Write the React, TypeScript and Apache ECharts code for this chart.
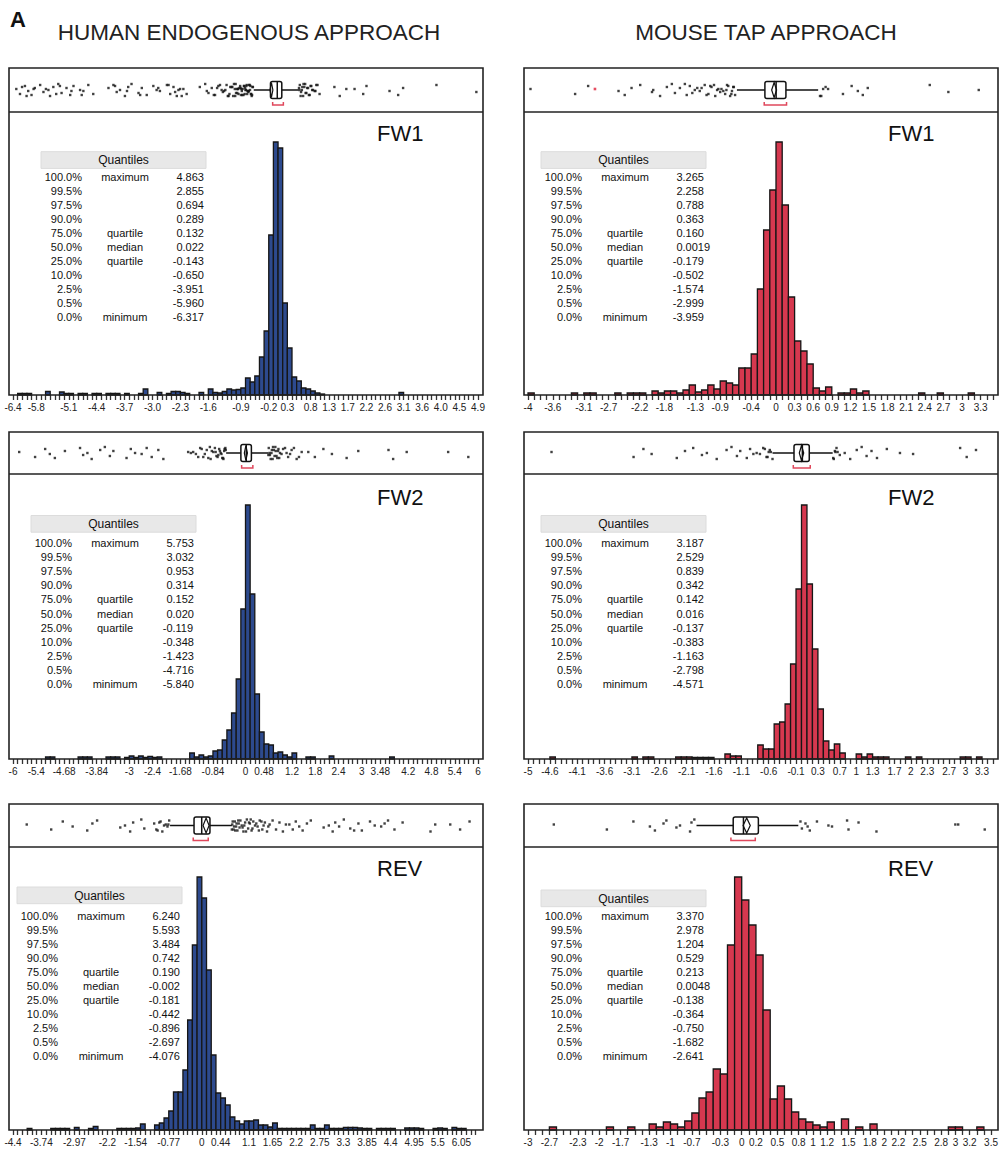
import React, { useEffect, useRef } from "react";
import * as echarts from "echarts";

const FONT = '"Liberation Sans", Arial, Helvetica, sans-serif';
const BLUE = "#2d4a8e";
const RED = "#d6384f";

const PCT = ["100.0%", "99.5%", "97.5%", "90.0%", "75.0%", "50.0%", "25.0%", "10.0%", "2.5%", "0.5%", "0.0%"];
const QLABEL = ["maximum", "", "", "", "quartile", "median", "quartile", "", "", "", "minimum"];
const JITTER = [1, -4, 4, -1, -5, 2, 5, -2, 0, -6, 3, 6, -3, 2, -5, 4, 0, -1, 5, -4, 3, -6, 1];

// ---------- FW1 human ----------
const FW1H_START = -6.4;
const FW1H_BIN = 0.113;
const FW1H_COUNTS = [
  0, 1.5, 1.5, 1.5, 0, 0, 0, 3.5, 0, 0,
  3, 1.5, 1.5, 0, 1.5, 1.5, 0, 1.5, 1.5, 0,
  1.5, 1.5, 1.5, 0, 1.5, 0, 0, 1.5, 6, 0,
  0, 2.5, 0, 1.5, 3.5, 3.5, 2.5, 1.5, 0, 0,
  2.5, 0, 6, 2.5, 2, 3.5, 6, 5, 5.5, 7,
  17, 13, 19, 38, 64, 160, 253, 247, 92, 47,
  18, 14, 7, 6, 4, 2, 1, 0, 0, 0,
  0, 0, 0, 0, 0, 0, 0, 0, 0, 0,
  0, 0, 0, 2.5, 0, 0, 0, 0, 0, 0,
  0, 0, 0, 0, 0, 0, 0, 0, 0, 0,
];
const FW1H_TICKS = ["-6.4", "-5.8", "-5.1", "-4.4", "-3.7", "-3.0", "-2.3", "-1.6", "-0.9", "-0.2", "0.3", "0.8", "1.3", "1.7", "2.2", "2.6", "3.1", "3.6", "4.0", "4.5", "4.9"];
const FW1H_Q = ["4.863", "2.855", "0.694", "0.289", "0.132", "0.022", "-0.143", "-0.650", "-3.951", "-5.960", "-6.317"];
// [whiskerLo, q1, median, q3, whiskerHi, mean, ciLo, ciHi, shortestHalfLo, shortestHalfHi]
const FW1H_BOX = [-0.55, -0.143, 0.022, 0.132, 0.54, -0.12, -0.155, -0.085, -0.09, 0.17];
const FW1H_DOTS = [
  -6.32, -6.23, -6.11, -6.03, -5.95, -5.87, -5.74, -5.66, -5.54, -5.5, -5.42, -5.3, -5.22, -5.1, -5.01, -4.93, -4.77, -4.69, -4.57, -4.45,
  -6.18, -6.07, -5.9, -5.6, -5.35, -5.26, -4.98, -4.73,
  -4.08, -3.96, -3.88, -3.8, -3.68, -3.6, -3.52, -3.35, -3.27, -3.15, -2.99, -2.91, -2.83, -2.66, -2.58, -2.5, -2.42, -2.34, -2.26, -2.18,
  -3.92, -3.63, -3.31, -2.87, -2.62, -2.46, -2.38, -2.3,
  -1.86, -1.73, -1.65, -1.57, -1.49, -1.41, -1.33, -1.27, -1.21, -1.14, -1.09, -1.05, -1.01, -0.96, -0.92, -0.88, -0.84, -0.8, -0.76, -0.72,
  -0.68, -0.64, -0.6, -1.12, -1.03, -0.98, -0.9, -0.86, -0.78, -0.74, -0.7, -0.66, -0.62, -0.58, -1.18, -0.94, -0.82, -0.71, -0.63,
  -1.69, -1.52, -1.44, -1.37, -1.3, -1.24, -1.16, -1.07, -0.99, -0.95, -0.87, -0.83, -0.79, -0.75, -0.69, -0.65, -0.61, -0.57,
  -1.0, -0.93, -0.85, -0.77, -0.73, -0.67, -0.59,
  0.55, 0.57, 0.6, 0.62, 0.65, 0.68, 0.7, 0.73, 0.77, 0.81, 0.85, 0.89, 0.93, 0.97, 1.05, 1.41, 1.54, 1.7, 1.9, 2.11, 2.19, 2.75, 2.96, 3.08, 3.89, 4.86,
  0.56, 0.59, 0.63, 0.66, 0.71, 0.75, 0.79, 0.83, 0.87, 0.95, 1.0,
];

// ---------- FW1 mouse ----------
const FW1M_START = -4;
const FW1M_BIN = 0.1;
const FW1M_COUNTS = [
  2, 0, 0, 0, 0, 0, 0, 2, 0, 2,
  2, 0, 0, 0, 2, 0, 2, 2, 2, 0,
  4, 2, 4, 4, 2, 5, 10, 3, 5, 10,
  6, 14, 12, 10, 27, 27, 41, 106, 165, 205,
  253, 190, 98, 54, 44, 31, 7, 4, 8, 0,
  2, 2, 6, 2, 4, 0, 0, 0, 0, 0,
  0, 0, 0, 2, 0, 0, 2, 0, 0, 0,
  0, 2, 0, 0, 0,
];
const FW1M_TICKS = ["-4", "-3.6", "-3.1", "-2.7", "-2.2", "-1.8", "-1.3", "-0.9", "-0.4", "0", "0.3", "0.6", "0.9", "1.2", "1.5", "1.8", "2.1", "2.4", "2.7", "3", "3.3"];
const FW1M_Q = ["3.265", "2.258", "0.788", "0.363", "0.160", "0.0019", "-0.179", "-0.502", "-1.574", "-2.999", "-3.959"];
const FW1M_BOX = [-0.63, -0.179, 0.0019, 0.16, 0.68, -0.03, -0.07, 0.01, -0.19, 0.17];
const FW1M_DOTS = [
  -3.96, -3.24, -3.03, -2.54, -2.44, -2.33, -2.19, -2.0, -1.98, -1.87, -1.76, -1.68, -1.63, -1.55, -1.44, -1.39, -1.31, -1.23, -1.15, -1.09,
  -1.04, -0.98, -0.93, -0.88, -0.82, -0.77, -0.71, -0.66, -1.2, -1.0, -0.9, -0.8, -0.74, -0.69,
  -1.47, -1.35, -1.27, -1.12, -1.06, -0.95, -0.85, -0.79, -0.72, -0.68,
  0.71, 0.76, 0.84, 1.08, 1.22, 1.32, 1.4, 1.48, 2.48, 2.78, 3.27, 0.73, 0.8,
];
const FW1M_RED = [-2.92];

// ---------- FW2 human ----------
const FW2H_START = -6;
const FW2H_BIN = 0.12;
const FW2H_COUNTS = [
  0, 0, 0, 0, 0, 0, 0, 2, 2, 0,
  0, 0, 0, 0, 2, 2, 2, 0, 0, 0,
  2, 2, 2, 0, 1.5, 3, 1.5, 3, 1.5, 2.5,
  1.5, 2, 0, 0, 0, 0, 0, 0, 6, 2,
  4, 2, 3, 8, 9, 19, 29, 46, 80, 150,
  254, 165, 65, 27, 15, 14, 6, 7, 4, 2,
  6, 0, 0, 2, 2, 0, 0, 0, 3, 0,
  0, 0, 0, 0, 0, 0, 0, 0, 0, 0,
  0, 2, 0, 0, 0, 0, 0, 0, 0, 0,
  0, 0, 0, 0, 0, 0, 0, 0, 0, 0,
];
const FW2H_TICKS = ["-6", "-5.4", "-4.68", "-3.84", "-3", "-2.4", "-1.68", "-0.84", "0", "0.48", "1.2", "1.8", "2.4", "3", "3.48", "4.2", "4.8", "5.4", "6"];
const FW2H_Q = ["5.753", "3.032", "0.953", "0.314", "0.152", "0.020", "-0.119", "-0.348", "-1.423", "-4.716", "-5.840"];
const FW2H_BOX = [-0.5, -0.119, 0.02, 0.152, 0.59, 0.01, -0.03, 0.05, -0.1, 0.19];
const FW2H_DOTS = [
  -5.84, -5.43, -5.17, -5.05, -4.92, -4.66, -4.27, -4.19, -4.08, -3.97, -3.75, -3.63, -3.5, -3.41, -3.07, -2.96, -2.85, -2.68, -2.55, -2.42,
  -2.25, -2.12, -1.48, -1.35, -1.22, -1.13, -1.05, -0.96, -0.87, -0.79, -0.7, -0.64, -0.57, -0.51, -0.92, -0.75, -0.66, -0.6, -0.54,
  -1.41, -1.28, -1.17, -1.09, -1.0, -0.9, -0.83, -0.77, -0.72, -0.68, -0.62, -0.58, -0.55, -0.52,
  0.59, 0.62, 0.65, 0.68, 0.71, 0.75, 0.78, 0.82, 0.85, 0.89, 0.93, 1.02, 1.1, 1.19, 1.32, 1.45, 1.62, 1.79, 2.01, 2.23, 2.61, 2.91,
  0.6, 0.63, 0.67, 0.7, 0.73, 0.77, 0.8, 0.84, 0.87, 0.97, 1.06, 1.15, 1.25, 1.38,
  3.69, 3.81, 4.16, 5.23, 5.75,
];

// ---------- FW2 mouse ----------
const FW2M_START = -5;
const FW2M_BIN = 0.1;
const FW2M_COUNTS = [
  0, 0, 0, 0, 2, 0, 0, 0, 0, 0,
  0, 0, 0, 0, 0, 0, 0, 0, 0, 2,
  0, 2, 2, 0, 0, 0, 0, 2, 2, 2,
  1.5, 1.5, 1.5, 1.5, 0, 0, 5, 3, 3, 0,
  0, 0, 14, 10, 10, 35, 37, 55, 95, 170,
  254, 175, 110, 50, 18, 9, 15, 6, 0, 0,
  5, 2, 5, 2, 2, 2, 0, 0, 0, 2,
  0, 2, 0, 0, 0, 0, 0, 0, 0, 2,
  2, 0, 2, 0, 0,
];
const FW2M_TICKS = ["-5", "-4.6", "-4.1", "-3.6", "-3.1", "-2.6", "-2.1", "-1.6", "-1.1", "-0.6", "-0.1", "0.3", "0.7", "1", "1.3", "1.7", "2", "2.3", "2.7", "3", "3.3"];
const FW2M_Q = ["3.187", "2.529", "0.839", "0.342", "0.142", "0.016", "-0.137", "-0.383", "-1.163", "-2.798", "-4.571"];
const FW2M_BOX = [-0.53, -0.137, 0.016, 0.142, 0.57, 0.0, -0.04, 0.04, -0.15, 0.16];
const FW2M_DOTS = [
  -4.57, -3.07, -2.89, -2.74, -2.28, -2.13, -1.98, -1.82, -1.73, -1.55, -1.37, -1.28, -1.18, -1.12, -1.0, -0.94, -0.82, -0.76, -0.7, -0.64,
  -0.58, -0.53, -0.6, -0.56, -0.62, -0.67, -0.88,
  0.58, 0.61, 0.64, 0.7, 0.79, 0.89, 1.01, 1.1, 1.19, 1.28, 1.38, 1.56, 1.8, 2.04, 2.9, 3.02, 3.19, 0.59, 0.62, 0.66,
];

// ---------- REV human ----------
const REVH_START = -4.4;
const REVH_BIN = 0.11;
const REVH_COUNTS = [
  0, 0, 0, 1.5, 0, 0, 0, 0, 1.5, 1.5,
  1.5, 1.5, 0, 2.5, 0, 0, 1.5, 3.5, 0, 0,
  0, 0, 1.5, 1.5, 1.5, 1.5, 2, 6, 0, 0,
  5, 7, 12, 19, 38, 38, 60, 110, 185, 253,
  232, 160, 75, 37, 32, 25, 13, 9, 6, 9,
  9, 10, 5, 5, 3, 7, 1.5, 1.5, 1.5, 1.5,
  1.5, 1.5, 1.5, 5, 1.5, 1.5, 5, 1.5, 1.5, 1.5,
  2.5, 2.5, 2.5, 2, 1.5, 1.5, 0, 1.5, 1.5, 1.5,
  1.5, 0, 0, 2, 2, 2, 1.5, 0, 0, 1.5,
  2, 1.5, 0, 2.5, 1.5, 1.5, 0, 0,
];
const REVH_TICKS = ["-4.4", "-3.74", "-2.97", "-2.2", "-1.54", "-0.77", "0", "0.44", "1.1", "1.65", "2.2", "2.75", "3.3", "3.85", "4.4", "4.95", "5.5", "6.05"];
const REVH_Q = ["6.240", "5.593", "3.484", "0.742", "0.190", "-0.002", "-0.181", "-0.442", "-0.896", "-2.697", "-4.076"];
const REVH_BOX = [-0.74, -0.181, -0.002, 0.19, 0.7, 0.1, 0.03, 0.17, -0.2, 0.15];
const REVH_DOTS = [
  -4.08, -3.51, -3.24, -3.01, -2.67, -2.55, -2.44, -1.9, -1.79, -1.67, -1.6, -1.41, -1.34, -1.11, -1.03, -0.96, -0.88, -0.8, -0.76,
  -1.06, -0.99, -0.92, -0.84, -0.78,
  0.7, 0.72, 0.75, 0.78, 0.81, 0.85, 0.88, 0.93, 0.97, 1.01, 1.05, 1.08, 1.12, 1.16, 1.2, 1.24, 1.3, 1.35, 1.41, 1.47, 1.52, 1.58,
  0.71, 0.74, 0.77, 0.8, 0.83, 0.86, 0.9, 0.95, 0.99, 1.03, 1.1, 1.14, 1.18, 1.27, 1.33, 1.39, 1.44, 1.55,
  1.65, 1.73, 1.81, 1.89, 1.96, 2.04, 2.12, 2.19, 2.27, 2.35, 2.45, 2.54, 2.84, 2.96, 3.05, 3.11, 3.31, 3.46, 3.65, 3.73, 3.92, 4.03,
  4.18, 4.34, 4.49, 4.68, 5.33, 5.44, 5.79, 6.02, 6.24, 3.2, 3.55, 4.26,
];

// ---------- REV mouse ----------
const REVM_START = -3;
const REVM_BIN = 0.1;
const REVM_COUNTS = [
  0, 0, 0, 3, 0, 0, 0, 0, 0, 0,
  0, 3, 0, 0, 3, 0, 0, 6, 3, 8,
  6, 3, 9, 17, 32, 38, 61, 56, 185, 253,
  230, 205, 175, 120, 31, 44, 31, 18, 11, 8,
  5, 3, 8, 0, 11, 0, 3, 0, 6, 0,
  0, 0, 0, 0, 0, 0, 0, 0, 0, 3,
  3, 0, 0, 3, 0,
];
const REVM_TICKS = ["-3", "-2.7", "-2.3", "-2", "-1.7", "-1.3", "-1", "-0.7", "-0.3", "0", "0.2", "0.5", "0.8", "1", "1.2", "1.5", "1.8", "2", "2.2", "2.5", "2.8", "3", "3.2", "3.5"];
const REVM_Q = ["3.370", "2.978", "1.204", "0.529", "0.213", "0.0048", "-0.138", "-0.364", "-0.750", "-1.682", "-2.641"];
const REVM_BOX = [-0.65, -0.138, 0.0048, 0.213, 0.77, 0.05, 0.0, 0.1, -0.17, 0.17];
const REVM_DOTS = [
  -2.64, -1.9, -1.53, -1.3, -1.23, -1.11, -1.07, -0.93, -0.88, -0.74, -0.72, -0.68,
  0.82, 0.87, 0.93, 1.03, 1.19, 1.24, 1.45, 1.47, 1.61, 1.86, 2.96, 3.0, 3.37, 0.8, 0.9,
];

// ---------- layout (positions only) ----------
const ROWS = [
  { stripTop: 68, divY: 112, base: 395, titleY: 133.5, rowY: 177, rowGap: 13.95 },
  { stripTop: 432, divY: 474, base: 759, titleY: 497, rowY: 543, rowGap: 14.1 },
  { stripTop: 804, divY: 847, base: 1130, titleY: 868.5, rowY: 916, rowGap: 14.0 },
];
const LEFT = { frameL: 9, frameR: 483, axisLeft: 13, titleX: 377 };
const RIGHT = { frameL: 524, frameR: 998, axisLeft: 528, titleX: 888 };

const PANELS = [
  { name: "FW1", side: LEFT, row: 0, color: BLUE, start: FW1H_START, bin: FW1H_BIN, counts: FW1H_COUNTS, ticks: FW1H_TICKS, quant: FW1H_Q, box: FW1H_BOX, dots: FW1H_DOTS, red: [], pxBin: 4.65, tableX: 41, tableY: 151.7 },
  { name: "FW1", side: RIGHT, row: 0, color: RED, start: FW1M_START, bin: FW1M_BIN, counts: FW1M_COUNTS, ticks: FW1M_TICKS, quant: FW1M_Q, box: FW1M_BOX, dots: FW1M_DOTS, red: FW1M_RED, pxBin: 6.2, tableX: 541, tableY: 151.7 },
  { name: "FW2", side: LEFT, row: 1, color: BLUE, start: FW2H_START, bin: FW2H_BIN, counts: FW2H_COUNTS, ticks: FW2H_TICKS, quant: FW2H_Q, box: FW2H_BOX, dots: FW2H_DOTS, red: [], pxBin: 4.65, tableX: 31, tableY: 515.5 },
  { name: "FW2", side: RIGHT, row: 1, color: RED, start: FW2M_START, bin: FW2M_BIN, counts: FW2M_COUNTS, ticks: FW2M_TICKS, quant: FW2M_Q, box: FW2M_BOX, dots: FW2M_DOTS, red: [], pxBin: 5.47, tableX: 541, tableY: 515.5 },
  { name: "REV", side: LEFT, row: 2, color: BLUE, start: REVH_START, bin: REVH_BIN, counts: REVH_COUNTS, ticks: REVH_TICKS, quant: REVH_Q, box: REVH_BOX, dots: REVH_DOTS, red: [], pxBin: 4.72, tableX: 17, tableY: 887 },
  { name: "REV", side: RIGHT, row: 2, color: RED, start: REVM_START, bin: REVM_BIN, counts: REVM_COUNTS, ticks: REVM_TICKS, quant: REVM_Q, box: REVM_BOX, dots: REVM_DOTS, red: [], pxBin: 7.17, tableX: 541, tableY: 890 },
];

function buildOption() {
  const grid: any[] = [];
  const xAxis: any[] = [];
  const yAxis: any[] = [];
  const series: any[] = [];
  const graphic: any[] = [];

  graphic.push({ type: "text", x: 10, y: 19, style: { text: "A", fontSize: 22, fontWeight: "bold", fontFamily: FONT, fill: "#111", textVerticalAlign: "middle" } });
  graphic.push({ type: "text", x: 249, y: 32, style: { text: "HUMAN ENDOGENOUS APPROACH", fontSize: 22.5, fontFamily: FONT, fill: "#222", textAlign: "center", textVerticalAlign: "middle" } });
  graphic.push({ type: "text", x: 766, y: 32, style: { text: "MOUSE TAP APPROACH", fontSize: 22.5, fontFamily: FONT, fill: "#222", textAlign: "center", textVerticalAlign: "middle" } });

  PANELS.forEach((p, i) => {
    const r = ROWS[p.row];
    const s = p.side;
    const N = p.counts.length;
    const max = +(p.start + N * p.bin).toFixed(6);
    const width = N * p.pxBin;
    const sH = r.divY - r.stripTop;
    const hH = r.base - r.divY;
    const start = p.start;
    const bin = p.bin;
    const tickIdx = p.ticks.map((t) => Math.round((parseFloat(t) - start) / bin));

    grid.push({ left: s.axisLeft, top: r.stripTop, width, height: sH });
    grid.push({ left: s.axisLeft, top: r.divY, width, height: hH });

    xAxis.push({ gridIndex: 2 * i, type: "value", min: start, max, show: false });
    xAxis.push({
      gridIndex: 2 * i + 1,
      type: "value",
      min: start,
      max,
      interval: bin,
      axisLine: { show: false },
      splitLine: { show: false },
      axisTick: { show: true, length: 5, lineStyle: { color: "#333", width: 1.3 } },
      axisLabel: {
        show: true,
        fontSize: 10,
        color: "#222",
        fontFamily: FONT,
        margin: 7,
        formatter: (val: number) => {
          const k = Math.round((val - start) / bin);
          const j = tickIdx.indexOf(k);
          return j >= 0 ? p.ticks[j] : "";
        },
      },
    });
    yAxis.push({ gridIndex: 2 * i, type: "value", min: -sH / 2, max: sH / 2, show: false });
    yAxis.push({ gridIndex: 2 * i + 1, type: "value", min: 0, max: hH, show: false });

    // histogram bars
    series.push({
      type: "custom",
      xAxisIndex: 2 * i + 1,
      yAxisIndex: 2 * i + 1,
      silent: true,
      data: p.counts.map((c, k) => [start + k * bin, start + (k + 1) * bin, c]),
      encode: { x: [0, 1], y: 2 },
      renderItem: (params: any, api: any) => {
        const c = api.value(2);
        if (!c) return null;
        const p0 = api.coord([api.value(0), 0]);
        const p1 = api.coord([api.value(1), c]);
        return {
          type: "rect",
          shape: { x: p0[0], y: p1[1], width: p1[0] - p0[0], height: p0[1] - p1[1] },
          style: { fill: p.color, stroke: "#161616", lineWidth: 1.3 },
        };
      },
    });

    // jittered points
    series.push({
      type: "scatter",
      xAxisIndex: 2 * i,
      yAxisIndex: 2 * i,
      silent: true,
      symbol: "rect",
      symbolSize: 2.4,
      itemStyle: { color: "#111" },
      data: p.dots.map((v, k) => [v, JITTER[k % JITTER.length]]),
    });
    if (p.red.length) {
      series.push({
        type: "scatter",
        xAxisIndex: 2 * i,
        yAxisIndex: 2 * i,
        silent: true,
        symbol: "rect",
        symbolSize: 2.6,
        itemStyle: { color: "#e0203a" },
        data: p.red.map((v) => [v, 1]),
      });
    }

    // outlier box plot with mean diamond and shortest-half bracket
    series.push({
      type: "custom",
      xAxisIndex: 2 * i,
      yAxisIndex: 2 * i,
      silent: true,
      data: [[...p.box, 0]],
      encode: { x: [0, 4], y: 10 },
      renderItem: (params: any, api: any) => {
        const X = (k: number) => api.coord([api.value(k), 0])[0];
        const cy = api.coord([0, 0])[1];
        const hb = 8.5;
        const wlo = X(0), q1 = X(1), med = X(2), q3 = X(3), whi = X(4), mean = X(5), cil = X(6), cih = X(7), shl = X(8), shh = X(9);
        const ln = { stroke: "#111", lineWidth: 1.5 };
        return {
          type: "group",
          children: [
            { type: "line", shape: { x1: wlo, y1: cy, x2: q1, y2: cy }, style: ln },
            { type: "line", shape: { x1: q3, y1: cy, x2: whi, y2: cy }, style: ln },
            { type: "rect", shape: { x: q1, y: cy - hb, width: q3 - q1, height: 2 * hb, r: 2 }, style: { fill: "#fff", stroke: "#111", lineWidth: 1.5 } },
            { type: "line", shape: { x1: med, y1: cy - hb, x2: med, y2: cy + hb }, style: ln },
            { type: "polygon", shape: { points: [[cil, cy], [mean, cy - hb + 1], [cih, cy], [mean, cy + hb - 1]] }, style: { fill: "none", stroke: "#111", lineWidth: 1.2 } },
            { type: "polyline", shape: { points: [[shl, cy + 12], [shl, cy + 15], [shh, cy + 15], [shh, cy + 12]] }, style: { fill: "none", stroke: "#e0485c", lineWidth: 1.5 } },
          ],
        };
      },
    });

    // frame + divider
    graphic.push({ type: "rect", shape: { x: s.frameL, y: r.stripTop, width: s.frameR - s.frameL, height: r.base - r.stripTop }, style: { fill: "none", stroke: "#222", lineWidth: 1.6 }, z: 100 });
    graphic.push({ type: "line", shape: { x1: s.frameL, y1: r.divY, x2: s.frameR, y2: r.divY }, style: { stroke: "#222", lineWidth: 1.6 }, z: 100 });

    // panel title
    graphic.push({ type: "text", x: s.titleX, y: r.titleY, style: { text: p.name, fontSize: 22, fontFamily: FONT, fill: "#111", textVerticalAlign: "middle" } });

    // quantile table
    const tx = p.tableX;
    graphic.push({ type: "rect", shape: { x: tx, y: p.tableY, width: 165, height: 16.7 }, style: { fill: "#e8e8e8", stroke: "#dcdcdc", lineWidth: 1 } });
    graphic.push({ type: "text", x: tx + 82.5, y: p.tableY + 8.5, style: { text: "Quantiles", fontSize: 12, fontFamily: FONT, fill: "#111", textAlign: "center", textVerticalAlign: "middle" } });
    p.quant.forEach((q, k) => {
      const y = r.rowY + k * r.rowGap;
      const ts = { fontSize: 11, fontFamily: FONT, fill: "#111", textVerticalAlign: "middle" };
      graphic.push({ type: "text", x: tx + 41, y, style: { ...ts, text: PCT[k], textAlign: "right" } });
      if (QLABEL[k]) graphic.push({ type: "text", x: tx + 84, y, style: { ...ts, text: QLABEL[k], textAlign: "center" } });
      const d = q.indexOf(".");
      graphic.push({ type: "text", x: tx + 141.5, y, style: { ...ts, text: q.slice(0, d), textAlign: "right" } });
      graphic.push({ type: "text", x: tx + 141.5, y, style: { ...ts, text: q.slice(d), textAlign: "left" } });
    });
  });

  return { animation: false, backgroundColor: "#fff", grid, xAxis, yAxis, series, graphic };
}

export default function App() {
  const ref = useRef<HTMLDivElement>(null);
  useEffect(() => {
    const chart = echarts.init(ref.current as HTMLDivElement, undefined, { renderer: "svg", width: 1001, height: 1151 });
    chart.setOption(buildOption() as any);
    return () => chart.dispose();
  }, []);
  return <div ref={ref} style={{ position: "absolute", left: 0, top: 0, width: 1001, height: 1151, background: "#fff" }} />;
}
